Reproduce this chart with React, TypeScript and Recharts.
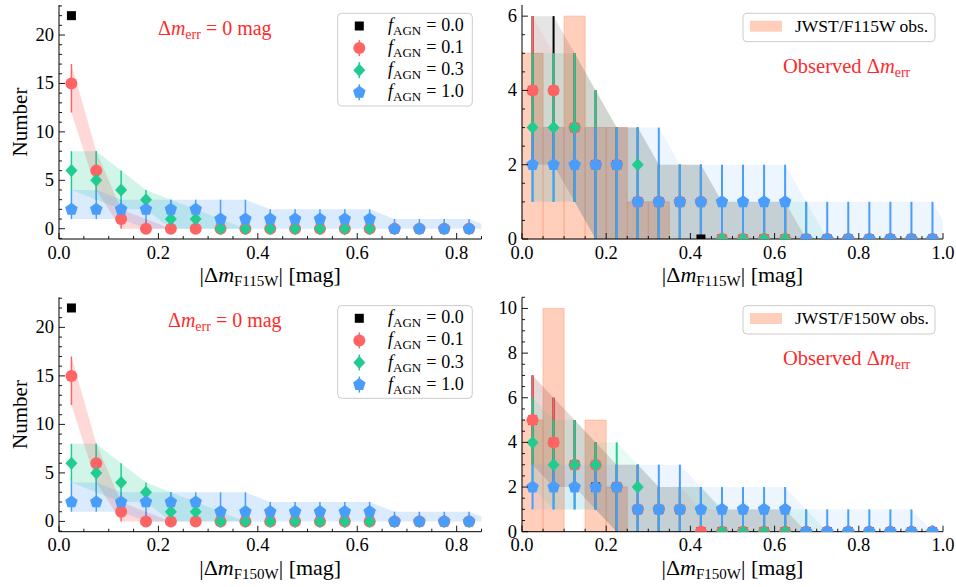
import React from 'react';
import { Area, ComposedChart, ErrorBar, ReferenceArea, Scatter, XAxis, YAxis } from 'recharts';

const FONT = '"Liberation Serif", "DejaVu Serif", "Times New Roman", serif';

const BLACK = '#000000';
const RED = '#ff6464';
const GREEN = '#20cc90';
const BLUE = '#4a9dfa';
const SALMON = '#ffa07a';
const TEXT_RED = '#ff2b2b';

// bin centres (0.05 mag bins); the last entries sit past the axis edge so the bands taper out
const LEFT_BINS = [0.025, 0.075, 0.125, 0.175, 0.225, 0.275, 0.325, 0.375, 0.425, 0.475, 0.525, 0.575, 0.625, 0.675, 0.725, 0.775, 0.825, 0.875];
const RIGHT_BINS = [0.025, 0.075, 0.125, 0.175, 0.225, 0.275, 0.325, 0.375, 0.425, 0.475, 0.525, 0.575, 0.625, 0.675, 0.725, 0.775, 0.825, 0.875, 0.925, 0.975, 1.025];

// Δm_err = 0 mag runs (F115W and F150W panels show the same counts)
const LEFT_F00 = [22, null, null, null, null, null, null, null, null, null, null, null, null, null, null, null, null, null];
const LEFT_F01 = [15, 6, 1, 0, 0, 0, 0, 0, 0, 0, 0, 0, 0, 0, 0, 0, 0, 0];
const LEFT_F01_LO = [12, 4, 0, 0, 0, 0, 0, 0, 0, 0, 0, 0, 0, 0, 0, 0, 0, 0];
const LEFT_F01_HI = [17, 8, 2, 1, 0, 0, 0, 0, 0, 0, 0, 0, 0, 0, 0, 0, 0, 0];
const LEFT_F03 = [6, 5, 4, 3, 1, 1, 0, 0, 0, 0, 0, 0, 0, 0, 0, 0, 0, 0];
const LEFT_F03_LO = [4, 3, 2, 2, 0, 0, 0, 0, 0, 0, 0, 0, 0, 0, 0, 0, 0, 0];
const LEFT_F03_HI = [8, 8, 6, 4, 3, 2, 1, 0, 0, 0, 0, 0, 0, 0, 0, 0, 0, 0];
const LEFT_F10 = [2, 2, 2, 2, 2, 2, 1, 1, 1, 1, 1, 1, 1, 0, 0, 0, 0, 0];
const LEFT_F10_LO = [1, 1, 1, 0, 0, 0, 0, 0, 0, 0, 0, 0, 0, 0, 0, 0, 0, 0];
const LEFT_F10_HI = [4, 4, 3, 3, 3, 3, 3, 3, 2, 2, 2, 2, 2, 1, 1, 1, 1, 0];

// observed Δm_err, F115W
const F115_F00 = [4, 4, 3, 2, 2, 1, 1, 1, 0, 0, 0, 0, 0, 0, 0, 0, 0, 0, 0, 0, 0];
const F115_F00_LO = [2, 2, 1, 0, 0, 0, 0, 0, 0, 0, 0, 0, 0, 0, 0, 0, 0, 0, 0, 0, 0];
const F115_F00_HI = [6, 6, 5, 4, 3, 3, 2, 2, 2, 1, 1, 1, 1, 0, 0, 0, 0, 0, 0, 0, 0];
const F115_F01 = [4, 4, 3, 2, 2, 1, 1, 1, 1, 0, 0, 0, 0, 0, 0, 0, 0, 0, 0, 0, 0];
const F115_F01_LO = [2, 2, 1, 0, 0, 0, 0, 0, 0, 0, 0, 0, 0, 0, 0, 0, 0, 0, 0, 0, 0];
const F115_F01_HI = [6, 5, 5, 4, 3, 3, 2, 2, 2, 1, 1, 1, 1, 0, 0, 0, 0, 0, 0, 0, 0];
const F115_F03 = [3, 3, 3, 2, 2, 2, 1, 1, 1, 0, 0, 0, 0, 0, 0, 0, 0, 0, 0, 0, 0];
const F115_F03_LO = [1, 1, 1, 0, 0, 0, 0, 0, 0, 0, 0, 0, 0, 0, 0, 0, 0, 0, 0, 0, 0];
const F115_F03_HI = [5, 5, 5, 4, 3, 3, 2, 2, 2, 1, 1, 1, 1, 1, 0, 0, 0, 0, 0, 0, 0];
const F115_F10 = [2, 2, 2, 2, 2, 1, 1, 1, 1, 1, 1, 1, 1, 0, 0, 0, 0, 0, 0, 0, 0];
const F115_F10_LO = [1, 1, 1, 0, 0, 0, 0, 0, 0, 0, 0, 0, 0, 0, 0, 0, 0, 0, 0, 0, 0];
const F115_F10_HI = [3, 3, 3, 3, 3, 3, 3, 2, 2, 2, 2, 2, 2, 1, 1, 1, 1, 1, 1, 1, 0];
const F115_OBS = [5, 3, 6, 3, 3, 1, 1];

// observed Δm_err, F150W
const F150_F00 = [5, 4, 3, 2, 2, 1, 1, 1, 0, 0, 0, 0, 0, 0, 0, 0, 0, 0, 0, 0, 0];
const F150_F00_LO = [3, 2, 2, 1, 0, 0, 0, 0, 0, 0, 0, 0, 0, 0, 0, 0, 0, 0, 0, 0, 0];
const F150_F00_HI = [7, 6, 5, 4, 3, 3, 2, 2, 2, 1, 1, 1, 1, 0, 0, 0, 0, 0, 0, 0, 0];
const F150_F01 = [5, 4, 3, 3, 2, 1, 1, 1, 0, 0, 0, 0, 0, 0, 0, 0, 0, 0, 0, 0, 0];
const F150_F01_LO = [3, 2, 2, 1, 0, 0, 0, 0, 0, 0, 0, 0, 0, 0, 0, 0, 0, 0, 0, 0, 0];
const F150_F01_HI = [7, 6, 5, 4, 3, 3, 2, 2, 1, 1, 1, 1, 1, 0, 0, 0, 0, 0, 0, 0, 0];
const F150_F03 = [4, 3, 3, 3, 2, 2, 1, 1, 1, 0, 0, 0, 0, 0, 0, 0, 0, 0, 0, 0, 0];
const F150_F03_LO = [2, 1, 1, 1, 0, 0, 0, 0, 0, 0, 0, 0, 0, 0, 0, 0, 0, 0, 0, 0, 0];
const F150_F03_HI = [6, 5, 5, 4, 4, 3, 2, 2, 2, 1, 1, 1, 1, 1, 0, 0, 0, 0, 0, 0, 0];
const F150_F10 = [2, 2, 2, 2, 2, 1, 1, 1, 1, 1, 1, 1, 1, 0, 0, 0, 0, 0, 0, 0, 0];
const F150_F10_LO = [1, 1, 1, 1, 0, 0, 0, 0, 0, 0, 0, 0, 0, 0, 0, 0, 0, 0, 0, 0, 0];
const F150_F10_HI = [3, 3, 3, 3, 3, 3, 3, 3, 2, 2, 2, 2, 2, 1, 1, 1, 1, 1, 1, 0, 0];
const F150_OBS = [5, 10, 0, 5, 2];

const OBS_BIN = 0.05;

const F_LABELS = ['0.0', '0.1', '0.3', '1.0'];

const steps = (from: number, to: number, step: number) => {
  const out: number[] = [];
  for (let v = from; v <= to + 1e-9; v += step) out.push(Math.round(v * 1000) / 1000);
  return out;
};

const LEFT_X_TICKS = steps(0, 0.85, 0.05);
const RIGHT_X_TICKS = steps(0, 1, 0.05);
const LEFT_Y_TICKS = steps(-1, 23, 1);
const F115_Y_TICKS = steps(0, 6, 0.5);
const F150_Y_TICKS = steps(0, 10.5, 0.5);

type Shape = 'square' | 'circle' | 'diamond' | 'pentagon';

interface SeriesDef {
  key: string;
  label: string;
  color: string;
  shape: Shape;
  val: (number | null)[];
  lo?: number[];
  hi?: number[];
  band: number;
}

const isMajor = (v: number, step: number) => Math.abs(v / step - Math.round(v / step)) < 1e-6;

const Marker = ({ kind, cx, cy, color }: { kind: Shape; cx: number; cy: number; color: string }) => {
  if (kind === 'square') return <rect x={cx - 4.5} y={cy - 4.5} width={9} height={9} fill={color} />;
  if (kind === 'circle') return <circle cx={cx} cy={cy} r={6} fill={color} />;
  if (kind === 'diamond') {
    return <polygon points={`${cx},${cy - 6.5} ${cx + 6},${cy} ${cx},${cy + 6.5} ${cx - 6},${cy}`} fill={color} />;
  }
  const pts = [0, 1, 2, 3, 4]
    .map((k) => {
      const a = ((-90 + k * 72) * Math.PI) / 180;
      return `${cx + 6.6 * Math.cos(a)},${cy + 6.6 * Math.sin(a)}`;
    })
    .join(' ');
  return <polygon points={pts} fill={color} />;
};

const tickText = { fontFamily: FONT, fontSize: 18.5, fill: '#000' };
const AXIS_LINE = { stroke: '#000', strokeWidth: 1 };

const bottomTick = (step: number) => (props: any) => {
  const { x, y, payload } = props;
  const major = isMajor(payload.value, step);
  return (
    <g>
      <line x1={x} y1={y} x2={x} y2={y - (major ? 6 : 3)} stroke="#000" strokeWidth={0.9} />
      {major && (
        <text x={x} y={y + 19.5} textAnchor="middle" {...tickText}>
          {payload.value.toFixed(1)}
        </text>
      )}
    </g>
  );
};

const topTick = (step: number) => (props: any) => {
  const { x, y, payload } = props;
  const major = isMajor(payload.value, step);
  return <line x1={x} y1={y} x2={x} y2={y + (major ? 6 : 3)} stroke="#000" strokeWidth={0.9} />;
};

const leftTick = (step: number) => (props: any) => {
  const { x, y, payload } = props;
  const major = isMajor(payload.value, step);
  return (
    <g>
      <line x1={x} y1={y} x2={x + (major ? 6 : 3)} y2={y} stroke="#000" strokeWidth={0.9} />
      {major && (
        <text x={x - 5} y={y + 6} textAnchor="end" {...tickText}>
          {String(payload.value)}
        </text>
      )}
    </g>
  );
};

const rightTick = (step: number) => (props: any) => {
  const { x, y, payload } = props;
  const major = isMajor(payload.value, step);
  return <line x1={x} y1={y} x2={x - (major ? 6 : 3)} y2={y} stroke="#000" strokeWidth={0.9} />;
};

interface PanelProps {
  left: number;
  top: number;
  width: number;
  height: number;
  plotLeft: number;
  plotRight: number;
  plotTop: number;
  plotBottom: number;
  xMax: number;
  yMin: number;
  yMax: number;
  xTicks: number[];
  yTicks: number[];
  yMajor: number;
  bins: number[];
  series: SeriesDef[];
  errWidth: number;
  obs?: number[];
  filter: string;
  side: 'left' | 'right';
  annX?: number;
}

const MathLabel = ({ x, y, filter }: { x: number; y: number; filter: string }) => (
  <text x={x} y={y} textAnchor="middle" fontFamily={FONT} fontSize={22} fill="#000">
    <tspan>|Δ</tspan>
    <tspan fontStyle="italic">m</tspan>
    <tspan fontSize={15} dy={4}>
      {filter}
    </tspan>
    <tspan dy={-4}>| [mag]</tspan>
  </text>
);

const LeftDecor = ({ p }: { p: PanelProps }) => {
  const cy = (p.plotTop + p.plotBottom) / 2;
  const bx = p.plotRight - 143.8;
  const by = p.plotTop + 8.3;
  return (
    <g>
      <text
        transform={`translate(27, ${cy}) rotate(-90)`}
        textAnchor="middle"
        fontFamily={FONT}
        fontSize={21}
        fill="#000"
      >
        Number
      </text>
      <text x={p.annX} y={p.plotTop + 30} fontFamily={FONT} fontSize={20} fill={TEXT_RED}>
        <tspan>Δ</tspan>
        <tspan fontStyle="italic">m</tspan>
        <tspan fontSize={14} dy={4}>
          err
        </tspan>
        <tspan dy={-4}> = 0 mag</tspan>
      </text>
      <rect x={bx} y={by} width={134.6} height={92.7} rx={4} fill="#fff" fillOpacity={0.85} stroke="#cccccc" strokeWidth={1} />
      {p.series.map((s, i) => {
        const ry = p.plotTop + 21 + i * 22.1;
        const mx = p.plotRight - 122.2;
        return (
          <g key={s.key}>
            {s.lo && <line x1={mx} y1={ry - 8} x2={mx} y2={ry + 8} stroke={s.color} strokeWidth={1.5} />}
            <Marker kind={s.shape} cx={mx} cy={ry} color={s.color} />
            <text x={p.plotRight - 93.5} y={ry + 5} fontFamily={FONT} fontSize={18} fill="#000">
              <tspan fontStyle="italic">f</tspan>
              <tspan fontSize={13} dy={4}>
                AGN
              </tspan>
              <tspan dy={-4} dx={5}>
                =
              </tspan>
              <tspan dx={5}>{s.label}</tspan>
            </text>
          </g>
        );
      })}
    </g>
  );
};

const RightDecor = ({ p }: { p: PanelProps }) => (
  <g>
    <rect
      x={p.plotRight - 200}
      y={p.plotTop + 8.3}
      width={192}
      height={28.4}
      rx={4}
      fill="#fff"
      fillOpacity={0.85}
      stroke="#cccccc"
      strokeWidth={1}
    />
    <rect x={p.plotRight - 193} y={p.plotTop + 15.7} width={32} height={11} fill={SALMON} fillOpacity={0.5} />
    <text x={p.plotRight - 148} y={p.plotTop + 27} fontFamily={FONT} fontSize={17.5} fill="#000">
      {`JWST/${p.filter} obs.`}
    </text>
    <text x={p.plotRight - 160} y={p.plotTop + 68} fontFamily={FONT} fontSize={20.5} fill={TEXT_RED}>
      <tspan>Observed Δ</tspan>
      <tspan fontStyle="italic">m</tspan>
      <tspan fontSize={14} dy={4}>
        err
      </tspan>
    </text>
  </g>
);

function Panel(p: PanelProps) {
  const rows = p.bins.map((x, i) => {
    const row: Record<string, unknown> = { x };
    p.series.forEach((s) => {
      if (s.lo && s.hi) row[s.key] = [s.lo[i], s.hi[i]];
    });
    return row;
  });
  const xDomain = [0, p.xMax];
  const yDomain = [p.yMin, p.yMax];

  return (
    <div style={{ position: 'absolute', left: p.left, top: p.top, width: p.width, height: p.height }}>
      <ComposedChart
        width={p.width}
        height={p.height}
        data={rows}
        margin={{ top: p.plotTop, right: p.width - p.plotRight, bottom: 0, left: 0 }}
      >
        <XAxis
          dataKey="x"
          type="number"
          domain={xDomain}
          allowDataOverflow
          ticks={p.xTicks}
          interval={0}
          height={p.height - p.plotBottom}
          tickSize={0}
          tickMargin={0}
          tickLine={false}
          axisLine={AXIS_LINE}
          tick={bottomTick(0.2)}
        />
        <XAxis
          xAxisId="top"
          orientation="top"
          dataKey="x"
          type="number"
          domain={xDomain}
          allowDataOverflow
          ticks={p.xTicks}
          interval={0}
          height={0}
          tickSize={0}
          tickMargin={0}
          tickLine={false}
          axisLine={AXIS_LINE}
          tick={topTick(0.2)}
        />
        <YAxis
          type="number"
          domain={yDomain}
          allowDataOverflow
          ticks={p.yTicks}
          interval={0}
          width={p.plotLeft}
          tickSize={0}
          tickMargin={0}
          tickLine={false}
          axisLine={AXIS_LINE}
          tick={leftTick(p.yMajor)}
        />
        <YAxis
          yAxisId="right"
          orientation="right"
          type="number"
          domain={yDomain}
          allowDataOverflow
          ticks={p.yTicks}
          interval={0}
          width={0}
          tickSize={0}
          tickMargin={0}
          tickLine={false}
          axisLine={AXIS_LINE}
          tick={rightTick(p.yMajor)}
        />
        {p.obs?.map((n, i) =>
          n > 0 ? (
            <ReferenceArea
              key={`obs-${i}`}
              x1={i * OBS_BIN}
              x2={(i + 1) * OBS_BIN}
              y1={0}
              y2={n}
              fill={SALMON}
              fillOpacity={0.5}
              stroke={SALMON}
              strokeOpacity={0.7}
              strokeWidth={0.8}
            />
          ) : null,
        )}
        {p.series
          .filter((s) => s.lo && s.hi)
          .map((s) => (
            <Area
              key={`band-${s.key}`}
              dataKey={s.key}
              type="linear"
              stroke="none"
              fill={s.color}
              fillOpacity={s.band}
              dot={false}
              activeDot={false}
              isAnimationActive={false}
            />
          ))}
        {p.series.map((s) => {
          const pts = p.bins
            .map((x, i) => {
              const v = s.val[i];
              const err = s.lo && s.hi && v !== null ? [v - s.lo[i], s.hi[i] - v] : [0, 0];
              return { x, y: v, err };
            })
            .filter((d) => d.y !== null && d.x < p.xMax);
          return (
            <Scatter
              key={`pts-${s.key}`}
              data={pts}
              dataKey="y"
              fill={s.color}
              isAnimationActive={false}
              shape={(props: any) => <Marker kind={s.shape} cx={props.cx} cy={props.cy} color={s.color} />}
            >
              {s.lo && <ErrorBar dataKey="err" direction="y" width={0} stroke={s.color} strokeWidth={p.errWidth} />}
            </Scatter>
          );
        })}
      </ComposedChart>
      <svg
        width={p.width}
        height={p.height}
        style={{ position: 'absolute', left: 0, top: 0, pointerEvents: 'none', overflow: 'visible' }}
      >
        <MathLabel x={(p.plotLeft + p.plotRight) / 2} y={p.plotBottom + 43} filter={p.filter} />
        {p.side === 'left' ? <LeftDecor p={p} /> : <RightDecor p={p} />}
      </svg>
    </div>
  );
}

const leftSeries: SeriesDef[] = [
  { key: 'f00', label: F_LABELS[0], color: BLACK, shape: 'square', val: LEFT_F00, band: 0 },
  { key: 'f01', label: F_LABELS[1], color: RED, shape: 'circle', val: LEFT_F01, lo: LEFT_F01_LO, hi: LEFT_F01_HI, band: 0.25 },
  { key: 'f03', label: F_LABELS[2], color: GREEN, shape: 'diamond', val: LEFT_F03, lo: LEFT_F03_LO, hi: LEFT_F03_HI, band: 0.2 },
  { key: 'f10', label: F_LABELS[3], color: BLUE, shape: 'pentagon', val: LEFT_F10, lo: LEFT_F10_LO, hi: LEFT_F10_HI, band: 0.2 },
];

const f115Series: SeriesDef[] = [
  { key: 'f00', label: F_LABELS[0], color: BLACK, shape: 'square', val: F115_F00, lo: F115_F00_LO, hi: F115_F00_HI, band: 0.1 },
  { key: 'f01', label: F_LABELS[1], color: RED, shape: 'circle', val: F115_F01, lo: F115_F01_LO, hi: F115_F01_HI, band: 0.1 },
  { key: 'f03', label: F_LABELS[2], color: GREEN, shape: 'diamond', val: F115_F03, lo: F115_F03_LO, hi: F115_F03_HI, band: 0.1 },
  { key: 'f10', label: F_LABELS[3], color: BLUE, shape: 'pentagon', val: F115_F10, lo: F115_F10_LO, hi: F115_F10_HI, band: 0.1 },
];

const f150Series: SeriesDef[] = [
  { key: 'f00', label: F_LABELS[0], color: BLACK, shape: 'square', val: F150_F00, lo: F150_F00_LO, hi: F150_F00_HI, band: 0.1 },
  { key: 'f01', label: F_LABELS[1], color: RED, shape: 'circle', val: F150_F01, lo: F150_F01_LO, hi: F150_F01_HI, band: 0.1 },
  { key: 'f03', label: F_LABELS[2], color: GREEN, shape: 'diamond', val: F150_F03, lo: F150_F03_LO, hi: F150_F03_HI, band: 0.1 },
  { key: 'f10', label: F_LABELS[3], color: BLUE, shape: 'pentagon', val: F150_F10, lo: F150_F10_LO, hi: F150_F10_HI, band: 0.1 },
];

export default function App() {
  return (
    <div style={{ position: 'absolute', left: 0, top: 0, width: 956, height: 587, background: '#fff' }}>
      <Panel
        left={0}
        top={0}
        width={490}
        height={290}
        plotLeft={59}
        plotRight={481.5}
        plotTop={5}
        plotBottom={239}
        xMax={0.85}
        yMin={-1.06}
        yMax={23.1}
        xTicks={LEFT_X_TICKS}
        yTicks={LEFT_Y_TICKS}
        yMajor={5}
        bins={LEFT_BINS}
        series={leftSeries}
        errWidth={1.5}
        filter="F115W"
        side="left"
        annX={158}
      />
      <Panel
        left={490}
        top={0}
        width={466}
        height={290}
        plotLeft={32}
        plotRight={453}
        plotTop={5}
        plotBottom={239}
        xMax={1}
        yMin={0}
        yMax={6.3}
        xTicks={RIGHT_X_TICKS}
        yTicks={F115_Y_TICKS}
        yMajor={2}
        bins={RIGHT_BINS}
        series={f115Series}
        errWidth={2}
        obs={F115_OBS}
        filter="F115W"
        side="right"
      />
      <Panel
        left={0}
        top={290}
        width={490}
        height={297}
        plotLeft={59}
        plotRight={481.5}
        plotTop={7.3}
        plotBottom={241.7}
        xMax={0.85}
        yMin={-1.06}
        yMax={23.1}
        xTicks={LEFT_X_TICKS}
        yTicks={LEFT_Y_TICKS}
        yMajor={5}
        bins={LEFT_BINS}
        series={leftSeries}
        errWidth={1.5}
        filter="F150W"
        side="left"
        annX={168}
      />
      <Panel
        left={490}
        top={290}
        width={466}
        height={297}
        plotLeft={32}
        plotRight={453}
        plotTop={7.3}
        plotBottom={241.7}
        xMax={1}
        yMin={0}
        yMax={10.5}
        xTicks={RIGHT_X_TICKS}
        yTicks={F150_Y_TICKS}
        yMajor={2}
        bins={RIGHT_BINS}
        series={f150Series}
        errWidth={2}
        obs={F150_OBS}
        filter="F150W"
        side="right"
      />
    </div>
  );
}
